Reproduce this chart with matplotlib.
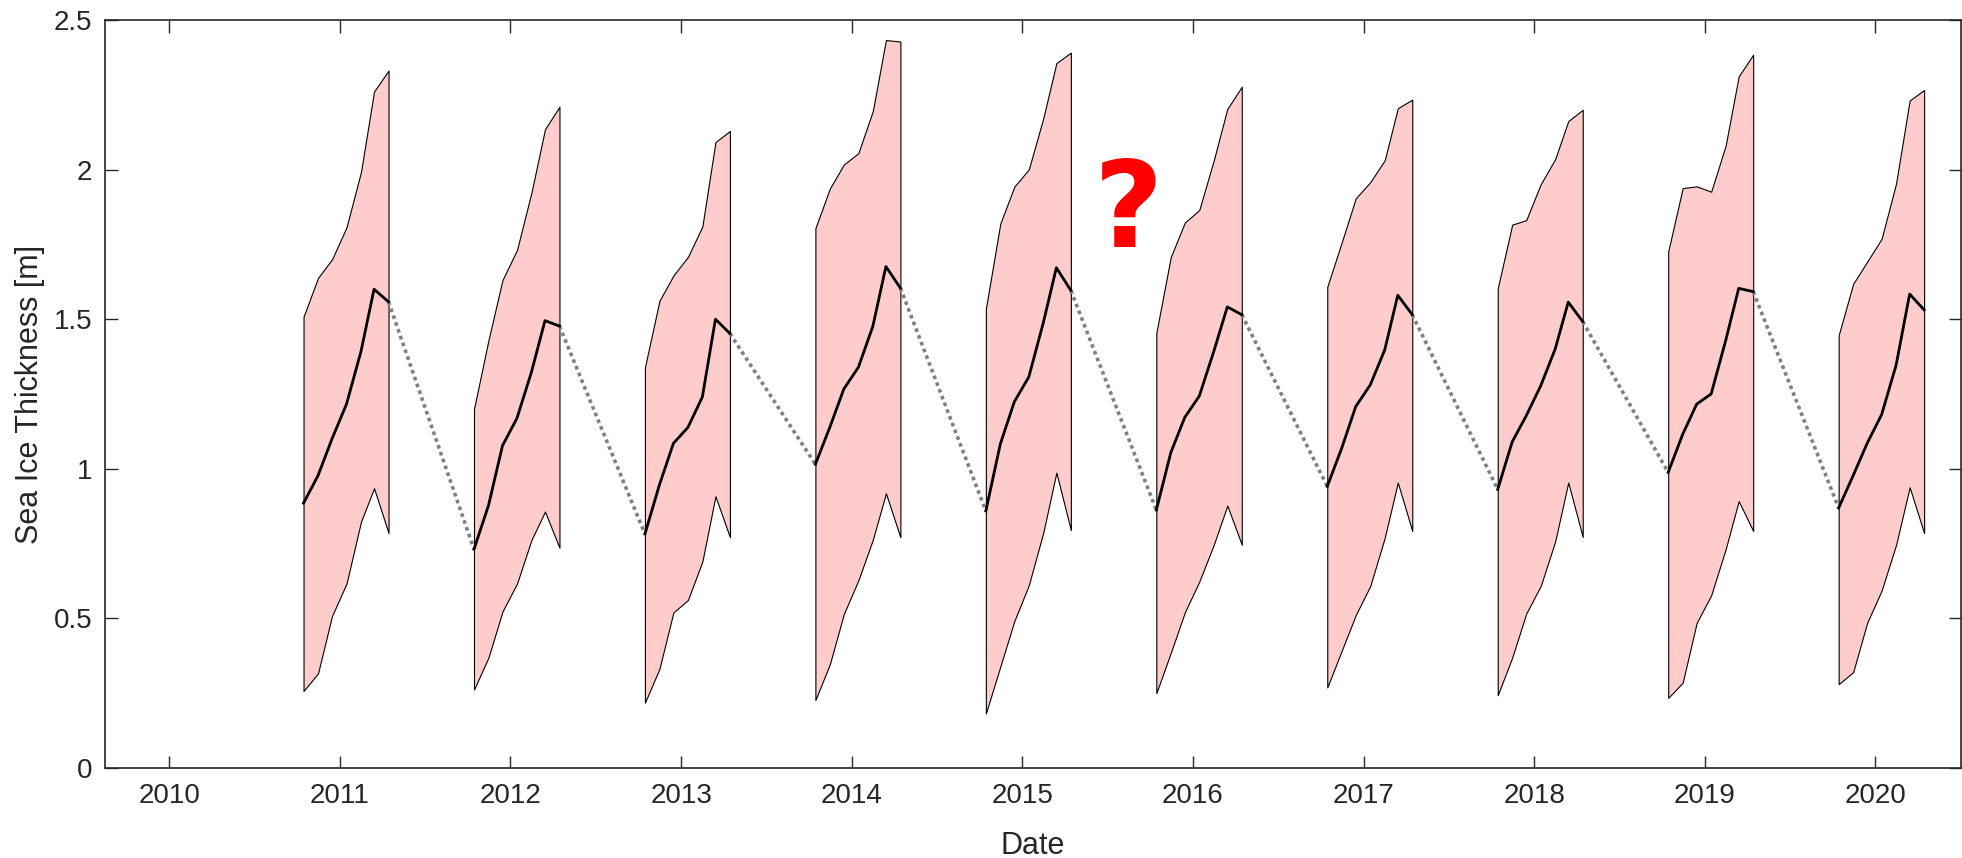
import numpy as np
import matplotlib
matplotlib.use("Agg")
import matplotlib.pyplot as plt
import matplotlib.dates as mdates
from datetime import datetime

plt.rcParams['font.family'] = ['Liberation Sans', 'DejaVu Sans']

# winter seasons: first year of each Oct..Apr campaign
season_years = [2010, 2011, 2012, 2013, 2014, 2015, 2016, 2017, 2018, 2019]
months = [(0, 10), (0, 11), (0, 12), (1, 1), (1, 2), (1, 3), (1, 4)]

mean_thk = [
    [0.885, 0.977, 1.100, 1.216, 1.392, 1.600, 1.558],
    [0.731, 0.877, 1.077, 1.169, 1.323, 1.495, 1.477],
    [0.782, 0.946, 1.085, 1.138, 1.240, 1.500, 1.452],
    [1.015, 1.139, 1.267, 1.339, 1.476, 1.676, 1.604],
    [0.859, 1.083, 1.224, 1.307, 1.488, 1.672, 1.596],
    [0.862, 1.054, 1.172, 1.243, 1.392, 1.541, 1.515],
    [0.941, 1.069, 1.208, 1.280, 1.397, 1.580, 1.515],
    [0.931, 1.090, 1.177, 1.277, 1.400, 1.557, 1.492],
    [0.988, 1.115, 1.216, 1.250, 1.428, 1.603, 1.592],
    [0.869, 0.977, 1.085, 1.181, 1.346, 1.584, 1.531],
]
upper_thk = [
    [1.508, 1.638, 1.700, 1.807, 1.992, 2.261, 2.331],
    [1.200, 1.430, 1.631, 1.731, 1.923, 2.135, 2.210],
    [1.339, 1.561, 1.646, 1.708, 1.810, 2.092, 2.129],
    [1.804, 1.937, 2.017, 2.055, 2.196, 2.433, 2.428],
    [1.535, 1.820, 1.943, 2.001, 2.172, 2.356, 2.391],
    [1.454, 1.708, 1.823, 1.865, 2.031, 2.203, 2.277],
    [1.608, 1.757, 1.904, 1.958, 2.031, 2.205, 2.234],
    [1.603, 1.816, 1.831, 1.951, 2.035, 2.162, 2.200],
    [1.726, 1.938, 1.944, 1.926, 2.080, 2.312, 2.384],
    [1.446, 1.618, 1.692, 1.769, 1.954, 2.231, 2.266],
]
lower_thk = [
    [0.257, 0.316, 0.508, 0.616, 0.823, 0.935, 0.785],
    [0.262, 0.369, 0.523, 0.616, 0.762, 0.857, 0.736],
    [0.218, 0.331, 0.520, 0.561, 0.690, 0.908, 0.771],
    [0.227, 0.347, 0.515, 0.627, 0.763, 0.918, 0.771],
    [0.182, 0.339, 0.491, 0.611, 0.787, 0.987, 0.795],
    [0.250, 0.385, 0.520, 0.623, 0.746, 0.877, 0.746],
    [0.269, 0.392, 0.511, 0.608, 0.769, 0.954, 0.792],
    [0.243, 0.369, 0.516, 0.608, 0.757, 0.954, 0.772],
    [0.234, 0.285, 0.485, 0.577, 0.731, 0.892, 0.792],
    [0.280, 0.320, 0.485, 0.593, 0.746, 0.938, 0.785],
]


def season_dates(y0):
    return [datetime(y0 + dy, m, 15) for dy, m in months]


fig = plt.figure(figsize=(19.62, 8.58), dpi=100)
ax = fig.add_axes([0.0533, 0.105, 0.9462, 0.8717])

prev = None
for y0, mu, hi, lo in zip(season_years, mean_thk, upper_thk, lower_thk):
    d = season_dates(y0)
    ax.fill_between(d, lo, hi, facecolor='#ffcccc', edgecolor='black',
                    linewidth=0.8, zorder=1)
    ax.plot(d, mu, color='black', linewidth=2.0, zorder=3)
    if prev is not None:
        # summer gap: link end of last season to start of this one
        ax.plot([prev[0], d[0]], [prev[1], mu[0]], color='#808080',
                linewidth=2.6, linestyle=(0, (1, 1)), zorder=2)
    prev = (d[-1], mu[-1])

ax.text(datetime(2015, 8, 16), 1.741, '?', color='red', fontsize=86,
        fontweight='bold', family='DejaVu Sans', ha='center', va='baseline')

ax.set_xlim(datetime(2009, 8, 15), datetime(2020, 7, 3))
ax.set_ylim(0, 2.5)
ax.xaxis.set_major_locator(mdates.YearLocator())
ax.xaxis.set_major_formatter(mdates.DateFormatter('%Y'))
ax.set_yticks([0, 0.5, 1, 1.5, 2, 2.5])
ax.set_yticklabels(['0', '0.5', '1', '1.5', '2', '2.5'])

ax.tick_params(direction='in', length=9, width=1.0, top=True, right=True,
               labelsize=20, colors='#262626')
ax.tick_params(axis='x', pad=11)
ax.tick_params(axis='y', pad=9)
for sp in ax.spines.values():
    sp.set_linewidth(1.2)
    sp.set_color('#262626')

ax.set_xlabel('Date', fontsize=22, color='#262626', labelpad=16)
ax.set_ylabel('Sea Ice Thickness [m]', fontsize=22, color='#262626', labelpad=6)

fig.savefig('out.png', dpi=100)
